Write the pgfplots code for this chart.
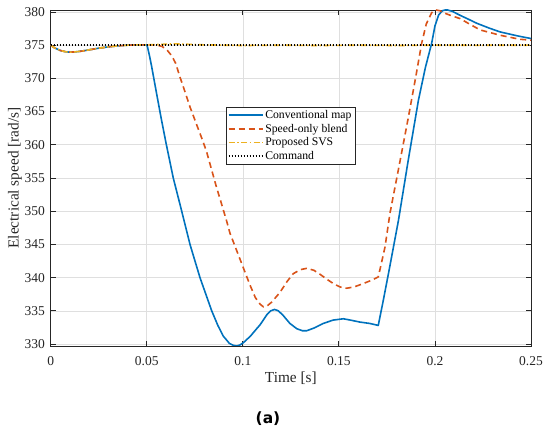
\documentclass[border=0pt]{standalone}
\usepackage{fontspec}
\setmainfont{Liberation Serif}
\newfontfamily\capfont{DejaVu Sans}
\usepackage{pgfplots}
\pgfplotsset{compat=1.18}
\definecolor{mblue}{RGB}{0,114,189}
\definecolor{morange}{RGB}{217,83,25}
\definecolor{myellow}{RGB}{237,177,32}
\definecolor{framec}{RGB}{38,38,38}
\definecolor{gridc}{RGB}{223,223,223}
\begin{document}
\begin{tikzpicture}
\path[use as bounding box] (-50.7bp,-89bp) rectangle (499.3bp,346bp);
\begin{axis}[
 scale only axis, width=480.3bp, height=336bp,
 xmin=0, xmax=0.25, ymin=329.7, ymax=380.3,
 xtick={0,0.05,0.1,0.15,0.2,0.25},
 xticklabels={0,0.05,0.1,0.15,0.2,0.25},
 ytick={330,335,340,345,350,355,360,365,370,375,380},
 grid=major, major grid style={gridc, line width=0.6bp},
 axis line style={framec, line width=0.8bp},
 tick style={framec, line width=0.8bp},
 tick align=inside, major tick length=5bp, tick pos=both,
 /pgf/number format/assume math mode=true,
 ticklabel style={font=\fontsize{13.5bp}{16bp}\selectfont, text=framec},
 xticklabel style={anchor=center, yshift=-15bp},
 yticklabel style={anchor=east, inner sep=0pt, xshift=-5.7bp},
 xlabel={Time [s]}, ylabel={Electrical speed [rad/s]},
 label style={font=\fontsize{15.3bp}{18bp}\selectfont, text=framec},
 xlabel style={at={(axis description cs:0.5,-0.0952)}, anchor=center},
 ylabel style={at={(axis description cs:-0.0743,0.5)}, anchor=center},
 legend style={at={(axis description cs:0.365,0.712)}, anchor=north west, draw=framec, fill=white, font=\fontsize{11.7bp}{13.6bp}\selectfont, inner sep=1.5bp},
 legend cell align=left,
 legend image code/.code={\draw[#1] (0bp,0bp) -- (34bp,0bp);},
 every axis plot/.append style={line join=round},
]
\addplot[mblue, line width=1.6bp] coordinates {
(0,375) (0.002,374.6) (0.005,374.2) (0.008,374.0) (0.01,373.95) (0.013,374.0) (0.016,374.1) (0.02,374.3) (0.025,374.55) (0.03,374.75) (0.035,374.9) (0.04,375.0) (0.045,375.05) (0.05,375.05)
(0.0505,374.6) (0.0515,373.3) (0.0526,371.7) (0.055,367.9) (0.0575,364.0) (0.06,360.3) (0.0638,355.0) (0.0682,350.0) (0.0725,345.0) (0.0777,340.0) (0.0838,335.0) (0.087,332.8) (0.0898,331.2) (0.093,330.1) (0.095,329.8) (0.0968,329.7) (0.0985,329.85) (0.1003,330.2) (0.104,331.2) (0.1072,332.3) (0.109,332.9) (0.1125,334.4) (0.1145,335.0) (0.1165,335.2) (0.1185,335.0) (0.121,334.3) (0.1245,333.1) (0.1281,332.3) (0.131,332.0) (0.1333,332.0) (0.137,332.4) (0.1419,333.1) (0.147,333.6) (0.1523,333.8) (0.156,333.6) (0.161,333.3) (0.166,333.1) (0.1705,332.8)
(0.173,336.4) (0.176,340.9) (0.181,348.6) (0.186,357.5) (0.1914,366.7) (0.195,371.6) (0.1983,375.3) (0.2,377.9) (0.202,379.6) (0.204,380.2) (0.206,380.35) (0.209,380.1) (0.2131,379.5) (0.2175,378.9) (0.2218,378.3) (0.228,377.6) (0.2339,377.0) (0.243,376.4) (0.25,376.0)
};
\addlegendentry{Conventional map}
\addplot[morange, line width=1.6bp, dash pattern=on 6bp off 4bp] coordinates {
(0,375) (0.002,374.6) (0.005,374.2) (0.008,374.0) (0.01,373.95) (0.013,374.0) (0.016,374.1) (0.02,374.3) (0.025,374.55) (0.03,374.75) (0.035,374.9) (0.04,375.0) (0.045,375.05) (0.05,375.05)
(0.055,375.05) (0.058,374.8) (0.0605,374.3) (0.063,373.4) (0.065,372.3) (0.0673,370.2) (0.07,367.9) (0.0725,365.7) (0.0794,360.4) (0.0812,358.9) (0.0864,353.5) (0.0881,351.9) (0.0916,348.5) (0.0933,346.7) (0.0985,342.8) (0.1037,338.9) (0.1065,337.0) (0.109,336.0) (0.1107,335.6) (0.1125,335.7) (0.115,336.3) (0.1194,337.8) (0.123,339.4) (0.1263,340.6) (0.13,341.2) (0.1333,341.4) (0.137,341.1) (0.1402,340.5) (0.144,339.7) (0.1471,339.1) (0.1505,338.6) (0.1541,338.4) (0.158,338.6) (0.1627,339.1) (0.167,339.6) (0.1705,340.1)
(0.172,342.0) (0.174,344.6) (0.1766,349.7) (0.181,356.3) (0.1862,364.2) (0.19,370.2) (0.1931,375.3) (0.1955,378.2) (0.1983,379.9) (0.2005,380.3) (0.2025,380.2) (0.2044,379.9) (0.208,379.5) (0.2131,379.0) (0.2185,378.1) (0.2235,377.3) (0.2339,376.5) (0.244,375.9) (0.25,375.75)
};
\addlegendentry{Speed-only blend}
\addplot[myellow, line width=1.6bp, dash pattern=on 6bp off 2.5bp on 1.5bp off 2.5bp] coordinates {
(0,375) (0.002,374.6) (0.005,374.2) (0.008,374.0) (0.01,373.95) (0.013,374.0) (0.016,374.1) (0.02,374.3) (0.025,374.55) (0.03,374.75) (0.035,374.9) (0.04,375.0) (0.045,375.05) (0.05,375.05) (0.055,375.1) (0.06,375.15) (0.065,375.2) (0.07,375.15) (0.08,375.05) (0.09,375.0) (0.1,374.95) (0.12,375.0) (0.14,374.95) (0.16,375.0) (0.18,374.95) (0.2,375.0) (0.22,374.98) (0.25,375.0)
};
\addlegendentry{Proposed SVS}
\addplot[black, line width=1.5bp, dash pattern=on 1.5bp off 1.5bp] coordinates {(0,375) (0.25,375)};
\addlegendentry{Command}
\end{axis}
\node[font=\capfont\bfseries\fontsize{15.5bp}{18bp}\selectfont, text=black] at (217.3bp,-73bp) {(a)};
\end{tikzpicture}
\end{document}
